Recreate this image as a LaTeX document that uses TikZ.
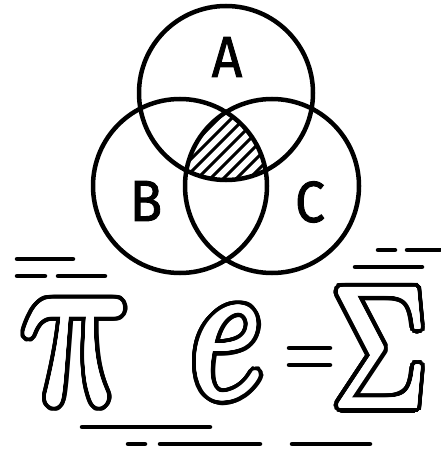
\documentclass[tikz,border=0pt]{standalone}
\usepackage{fontspec}
\usepackage{graphicx}
\usetikzlibrary{calc}
\newfontfamily\lblfont[FakeBold=1.6]{Fira Sans}
% the three glyphs of the formula, sized to the picture
\newcommand\glyphpi{\resizebox{110pt}{101pt}{$\pi$}}
\newcommand\glyphe{\resizebox{72pt}{88pt}{$e$}}
\newcommand\glyphsum{\resizebox{94pt}{118pt}{$\Sigma$}}
% hollow glyph: black ring, thickened white core
\newcommand\hollow[3][]{%
 \foreach \a in {0,10,...,350} {
  \node[glyph,text=black,#1] at ($(#2)+(\a:6pt)$) {#3};
  \node[glyph,text=black,#1] at ($(#2)+(\a:3.5pt)$) {#3};
 }
 \foreach \a in {0,20,...,340}
  \node[glyph,text=white,#1] at ($(#2)+(\a:1.6pt)$) {#3};
 \node[glyph,text=white,#1] at (#2) {#3};
}

\begin{document}
\begin{tikzpicture}[x=1pt,y=-1pt,line cap=round,
 set/.style={draw,line width=4.5pt},
 hatch/.style={line width=3pt},
 lbl/.style={font=\lblfont\fontsize{58}{58}\selectfont,inner sep=0pt,xscale=0.92,transform shape},
 glyph/.style={inner sep=0pt},
 bar/.style={line width=4.5pt}]
 \useasboundingbox (0,0) rectangle (440,452);
 % the three sets
 \coordinate (ca) at (226,93);
 \coordinate (cb) at (180,186);
 \coordinate (cc) at (272,186);
 \begin{scope}
  \clip (ca) circle[radius=87pt];
  \clip (cb) circle[radius=87pt];
  \clip (cc) circle[radius=87pt];
  \foreach \d in {-130,-117,...,130}
   \draw[hatch] ($(226,150)+(\d,0)+(-70,70)$) -- ++(140,-140);
 \end{scope}
 \draw[set] (ca) circle[radius=87pt];
 \draw[set] (cb) circle[radius=87pt];
 \draw[set] (cc) circle[radius=87pt];
 \node[lbl] (la) at (227,57) {A};
 \node[lbl] (lb) at (146,201) {B};
 \node[lbl] (lc) at (310,202) {C};
 % formula
 \coordinate (pi) at (79,352);
 \coordinate (e) at (227,353);
 \coordinate (sum) at (380,348);
 \hollow[xslant=-0.12,transform shape]{pi}{\glyphpi}
 \hollow{e}{\glyphe}
 \hollow{sum}{\glyphsum}
 \draw[bar] (289,348) -- (330,348);
 \draw[bar] (289,365) -- (330,365);
 % speed lines
 \draw[bar] (17,259) -- (73,259);
 \draw[bar] (17,276) -- (45,276) (58,276) -- (105,276);
 \draw[bar] (378,250) -- (395,250) (407,250) -- (440,250);
 \draw[bar] (355,267) -- (422,267);
 \draw[bar] (82,427) -- (210,427);
 \draw[bar] (128,444) -- (145,444) (160,444) -- (260,444) (292,444) -- (370,444);
\end{tikzpicture}
\end{document}
